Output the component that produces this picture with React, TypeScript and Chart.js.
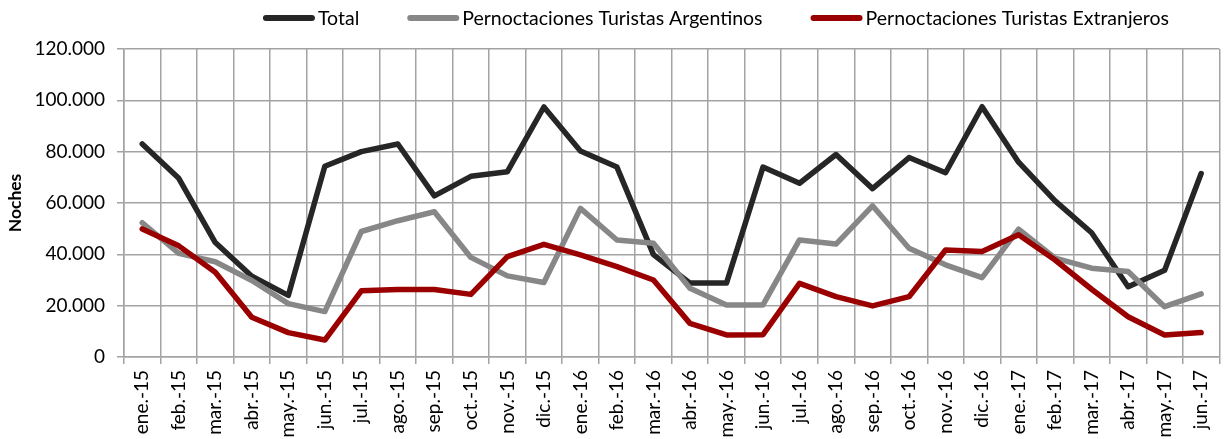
import React, { useEffect, useRef } from "react";
import { Chart, registerables } from "chart.js";

Chart.register(...registerables);

const months = [
  "ene.-15", "feb.-15", "mar.-15", "abr.-15", "may.-15", "jun.-15",
  "jul.-15", "ago.-15", "sep.-15", "oct.-15", "nov.-15", "dic.-15",
  "ene.-16", "feb.-16", "mar.-16", "abr.-16", "may.-16", "jun.-16",
  "jul.-16", "ago.-16", "sep.-16", "oct.-16", "nov.-16", "dic.-16",
  "ene.-17", "feb.-17", "mar.-17", "abr.-17", "may.-17", "jun.-17",
];

const total = [
  83000, 69600, 44600, 31500, 24000, 74300,
  80000, 83000, 62800, 70400, 72200, 97400,
  80300, 74000, 39900, 28800, 28800, 74000,
  67700, 78900, 65600, 77700, 71800, 97500,
  75900, 60800, 48400, 27400, 33800, 71500,
];

const argentinos = [
  52300, 40400, 37100, 29800, 20800, 17700,
  48900, 53100, 56600, 38800, 31600, 29000,
  57900, 45600, 44300, 26800, 20300, 20300,
  45600, 44000, 58900, 42400, 35900, 30900,
  49800, 38500, 34600, 33300, 19600, 24600,
];

const extranjeros = [
  49900, 43300, 33000, 15500, 9500, 6600,
  25800, 26300, 26300, 24400, 39100, 43900,
  39800, 35200, 30000, 13100, 8600, 8700,
  28700, 23500, 19900, 23500, 41700, 41100,
  47600, 37800, 26400, 15700, 8600, 9500,
];

const seriesNames = [
  "Total",
  "Pernoctaciones Turistas Argentinos",
  "Pernoctaciones Turistas Extranjeros",
];
const seriesColors = ["#262626", "#878787", "#9a0000"];

const yTicks = [0, 20000, 40000, 60000, 80000, 100000, 120000];

const FONT = "Lato";

function fmt(v: number): string {
  if (v === 0) return "0";
  const s = Math.round(v).toString();
  return s.replace(/\B(?=(\d{3})+(?!\d))/g, ".");
}

const legendPlugin = {
  id: "customLegend",
  afterDraw(chart: any) {
    const ctx = chart.ctx as CanvasRenderingContext2D;
    ctx.save();
    ctx.font = `19.5px ${FONT}`;
    const swatch = 52;
    const gap = 3;
    const spacing = 48;
    const items = chart.data.datasets.map((ds: any) => ({
      text: ds.label as string,
      color: ds.borderColor as string,
      w: ctx.measureText(ds.label).width,
    }));
    const totalW =
      items.reduce((s: number, it: any) => s + swatch + gap + it.w, 0) +
      spacing * (items.length - 1);
    let x = 716 - totalW / 2;
    const y = 18;
    ctx.textBaseline = "middle";
    ctx.textAlign = "left";
    for (const it of items) {
      ctx.strokeStyle = it.color;
      ctx.lineWidth = 6;
      ctx.lineCap = "round";
      ctx.beginPath();
      ctx.moveTo(x + 3, y);
      ctx.lineTo(x + swatch - 3, y);
      ctx.stroke();
      ctx.fillStyle = "#000000";
      ctx.fillText(it.text, x + swatch + gap, y + 1);
      x += swatch + gap + it.w + spacing;
    }
    ctx.restore();
  },
};

export default function App() {
  const ref = useRef<HTMLCanvasElement | null>(null);

  useEffect(() => {
    if (!ref.current) return;
    const values = [total, argentinos, extranjeros];
    const chart = new Chart(ref.current, {
      type: "line",
      data: {
        labels: months,
        datasets: values.map((d, i) => ({
          label: seriesNames[i],
          data: d,
          borderColor: seriesColors[i],
          backgroundColor: seriesColors[i],
          borderWidth: 5.5,
          pointRadius: 0,
          pointHoverRadius: 0,
          tension: 0,
          borderCapStyle: "round",
          borderJoinStyle: "round",
          fill: false,
          order: 3 - i,
        })),
      },
      options: {
        animation: false,
        responsive: true,
        maintainAspectRatio: false,
        layout: { padding: { top: 49, right: 3, left: 0, bottom: 0 } },
        plugins: {
          legend: { display: false },
          tooltip: { enabled: false },
        },
        scales: {
          x: {
            offset: true,
            grid: {
              offset: true,
              color: "#a3a3a3",
              lineWidth: 1.5,
              tickLength: 7,
              drawTicks: true,
            },
            border: { color: "#a3a3a3", width: 1.5 },
            ticks: {
              autoSkip: false,
              minRotation: 90,
              maxRotation: 90,
              padding: 6,
              color: "#000000",
              font: { family: FONT, size: 19 },
            },
            afterFit: (s: any) => {
              s.height = 82;
            },
          },
          y: {
            min: 0,
            max: 120000,
            afterBuildTicks: (s: any) => {
              s.ticks = yTicks.map((v) => ({ value: v }));
            },
            grid: {
              color: "#a3a3a3",
              lineWidth: 1.5,
              tickLength: 7,
            },
            border: { color: "#a3a3a3", width: 1.5 },
            ticks: {
              padding: 12,
              color: "#000000",
              font: { family: FONT, size: 19 },
              callback: (v: any) => fmt(Number(v)),
            },
            title: {
              display: true,
              text: "Noches",
              color: "#000000",
              font: { family: FONT, size: 17.5, weight: "bold" },
              padding: { top: 5, bottom: 0 },
            },
            afterFit: (s: any) => {
              s.width = 124;
            },
          },
        },
      },
      plugins: [legendPlugin],
    });
    return () => chart.destroy();
  }, []);

  return (
    <div
      style={{
        position: "fixed",
        left: 0,
        top: 0,
        width: 1230,
        height: 439,
        background: "#ffffff",
      }}
    >
      <canvas ref={ref} />
    </div>
  );
}
